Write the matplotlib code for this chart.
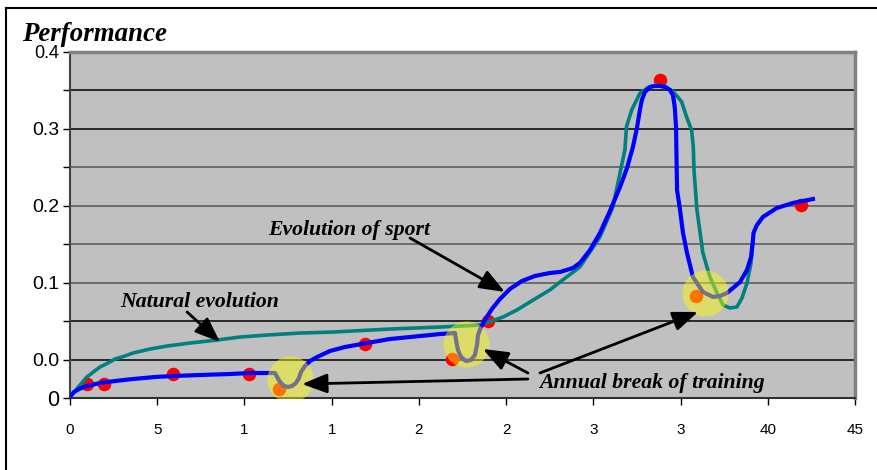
import matplotlib
matplotlib.use("Agg")
import matplotlib.pyplot as plt
from matplotlib.lines import Line2D
from matplotlib.transforms import ScaledTranslation

# Sport performance curve (blue)
sport_x = [0.0, 0.10, 0.23, 0.52, 0.97, 1.72, 2.58, 3.61, 4.87, 5.90, 7.45, 9.17, 10.32, 11.75,
           11.87, 12.04, 12.27, 12.50, 12.73, 12.95, 13.13, 13.24,
           13.47, 13.76, 14.16, 14.90, 15.76, 17.02, 18.34, 20.06, 21.21, 22.07,
           22.13, 22.24, 22.41, 22.70, 22.99, 23.21, 23.33, 23.39, 23.56,
           23.85, 24.19, 24.65, 25.22, 25.91, 26.65, 27.51, 28.09, 28.83, 29.23, 29.81,
           30.38, 30.95, 31.53, 31.93, 32.27, 32.50, 32.67, 32.78, 32.96, 33.25, 33.53,
           33.82, 34.10, 34.39, 34.56, 34.65, 34.68, 34.74, 34.77, 34.80, 34.97, 35.14,
           35.37, 35.54, 35.65,
           35.71, 35.94, 36.28, 36.86, 37.26, 37.66, 38.01, 38.41,
           38.81, 39.04, 39.15, 39.18, 39.38, 39.72, 40.52, 41.44, 42.59]
sport_y = [0.001, 0.0045, 0.0078, 0.0117, 0.0156, 0.0195, 0.0221, 0.0247, 0.0273, 0.0286, 0.0299, 0.0312, 0.0325, 0.0325,
           0.0273, 0.0208, 0.0156, 0.0143, 0.0156, 0.0195, 0.0260, 0.0338,
           0.0416, 0.0481, 0.0533, 0.0611, 0.0663, 0.0715, 0.0767, 0.0806, 0.0832, 0.0845,
           0.0754, 0.0624, 0.0533, 0.0481, 0.0494, 0.0559, 0.0689, 0.0819, 0.0923,
           0.1040, 0.1158, 0.1288, 0.1418, 0.1522, 0.1587, 0.1626, 0.1639, 0.1691, 0.1756, 0.1925,
           0.2146, 0.2432, 0.2744, 0.2991, 0.3265, 0.3512, 0.3746, 0.3876, 0.3980, 0.4045, 0.4058,
           0.4058, 0.4045, 0.4006, 0.3941, 0.3811, 0.3746, 0.3525, 0.3095, 0.2705, 0.2445, 0.2146,
           0.1886, 0.1730, 0.1626,
           0.1574, 0.1496, 0.1379, 0.1314, 0.1327, 0.1366, 0.1431, 0.1509,
           0.1665, 0.1834, 0.2055, 0.2146, 0.2250, 0.2354, 0.2471, 0.2536, 0.2588]

# Natural evolution curve (teal)
natural_x = [0.0, 0.11, 0.29, 0.45, 0.62, 0.80, 0.97, 1.26, 1.72, 2.18, 2.58, 3.15, 3.61, 4.59,
             5.56, 6.88, 8.43, 9.74, 11.29, 13.18, 15.08, 18.34, 21.21,
             23.50, 24.82, 25.62, 26.65, 27.51, 28.09, 29.23, 30.38, 31.12, 31.53, 31.81,
             31.90, 32.20, 32.67, 33.15, 33.63, 34.10, 34.58, 35.06, 35.34, 35.63, 35.73, 35.77,
             35.94, 36.28, 36.68, 37.09, 37.43, 37.83, 38.23, 38.52, 38.81, 39.04, 39.15]
natural_y = [0.0013, 0.0052, 0.0091, 0.0135, 0.0180, 0.0230, 0.0273, 0.0325, 0.0403, 0.0455, 0.0507, 0.0546, 0.0585, 0.0637,
             0.0676, 0.0715, 0.0754, 0.0793, 0.0819, 0.0845, 0.0858, 0.0897, 0.0923,
             0.0949, 0.1053, 0.1145, 0.1288, 0.1405, 0.1509, 0.1704, 0.2094, 0.2484, 0.2926, 0.3226,
             0.3529, 0.3746, 0.3963, 0.4041, 0.4071, 0.4058, 0.3984, 0.3854, 0.3659, 0.3486, 0.3269, 0.2965,
             0.2445, 0.1886, 0.1574, 0.1366, 0.1210, 0.1171, 0.1184, 0.1301, 0.1496, 0.1756, 0.2029]

# Measured results (red dots)
points_x = [0.97, 1.95, 5.90, 10.26, 11.98, 16.91, 21.90, 23.96, 33.82, 35.88, 41.90]
points_y = [0.0182, 0.0182, 0.0312, 0.0312, 0.0117, 0.0702, 0.0507, 0.1001, 0.4136, 0.1327, 0.2510]

# Annual breaks (yellow highlights)
break_x = [12.61, 22.70, 36.40]
break_y = [0.0247, 0.0702, 0.1366]

yticks = [0, 0.05, 0.10, 0.15, 0.20, 0.25, 0.30, 0.35, 0.40, 0.45]
ylabels = ["0", "0.0", "", "0.1", "", "0.2", "", "0.3", "", "0.4"]
xticks = [0, 5, 10, 15, 20, 25, 30, 35, 40, 45]
xlabels = ["0", "5", "1", "1", "2", "2", "3", "3", "40", "45"]

serif = "Liberation Serif"
sans = "Liberation Sans"

fig = plt.figure(figsize=(8.78, 4.70), dpi=100)
ax = fig.add_axes([70 / 878, 72 / 470, 785 / 878, 346 / 470])
ax.set_facecolor("#c0c0c0")
ax.set_xlim(0, 45)
ax.set_ylim(0, 0.45)

# gridlines: some rendered black, some dark grey
for yv in yticks[1:-1]:
    col = "#555555" if 0.12 < yv < 0.32 else "black"
    ax.axhline(yv, color=col, lw=1.1, zorder=1)

ax.scatter(points_x, points_y, s=95, color="red", zorder=2, linewidths=0)
ax.plot(natural_x, natural_y, color="#008080", lw=2.6, zorder=3, solid_joinstyle="round")
ax.plot(sport_x, sport_y, color="#0000ff", lw=3.0, zorder=4, solid_joinstyle="round")
ax.scatter(break_x, break_y, s=1100, color="#ffff00", alpha=0.45, linewidths=0, zorder=5)

ax.set_yticks(yticks)
ax.set_yticklabels(ylabels, fontsize=14, family=sans)
ylab = ax.get_yticklabels()
ylab[0].set_fontsize(15.5)
ylab[-1].set_fontsize(13)
ylab[-1].set_transform(ylab[-1].get_transform() + ScaledTranslation(0, -4 / 100, fig.dpi_scale_trans))
ax.set_xticks(xticks)
ax.set_xticklabels(xlabels, fontsize=11, family=sans)
ax.tick_params(axis="y", direction="out", length=5, width=1, pad=3)
ax.tick_params(axis="x", direction="out", length=5, width=1, pad=13)

ax.spines["left"].set_color("#404040")
ax.spines["left"].set_linewidth(1.5)
ax.spines["bottom"].set_color("#303030")
ax.spines["bottom"].set_linewidth(1.5)
ax.spines["top"].set_color("#808080")
ax.spines["top"].set_linewidth(2.5)
ax.spines["right"].set_color("#808080")
ax.spines["right"].set_linewidth(2.5)

arrow = dict(arrowstyle="-|>,head_length=0.9,head_width=0.35", color="black", lw=2,
             shrinkA=0, shrinkB=0, mutation_scale=17)
txt = dict(fontsize=15.7, family=serif, fontweight="bold", style="italic", zorder=6)

ax.text(7.45, 0.1249, "Natural evolution", ha="center", va="center", **txt)
ax.annotate("", xy=(8.60, 0.0728), xytext=(6.71, 0.1119), arrowprops=arrow, zorder=6)

ax.text(15.99, 0.2185, "Evolution of sport", ha="center", va="center", **txt)
ax.annotate("", xy=(24.93, 0.1379), xytext=(19.49, 0.2081), arrowprops=arrow, zorder=6)

ax.text(33.36, 0.0195, "Annual break of training", ha="center", va="center", **txt)
ax.annotate("", xy=(13.30, 0.0182), xytext=(26.25, 0.0247), arrowprops=arrow, zorder=6)
ax.annotate("", xy=(23.67, 0.0637), xytext=(26.25, 0.0325), arrowprops=arrow, zorder=6)
ax.annotate("", xy=(36.00, 0.1119), xytext=(26.94, 0.0325), arrowprops=arrow, zorder=6)

fig.text(22 / 878, 1 - 41 / 470, "Performance", fontsize=19.4, family=serif,
         fontweight="bold", style="italic", ha="left", va="baseline")

# outer frame (only top and left edges fall inside the picture)
fig.add_artist(Line2D([6 / 878, 1], [1 - 8 / 470, 1 - 8 / 470], color="black", lw=1.5,
                      transform=fig.transFigure))
fig.add_artist(Line2D([6 / 878, 6 / 878], [0, 1 - 8 / 470], color="black", lw=1.5,
                      transform=fig.transFigure))

fig.savefig("out.png", dpi=100)
